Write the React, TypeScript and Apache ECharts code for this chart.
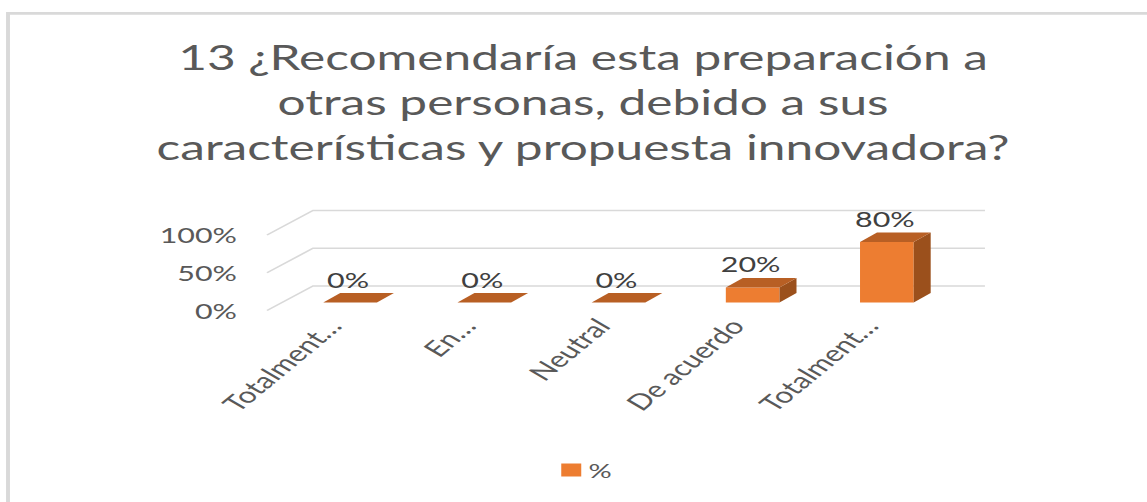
import React, { useEffect, useRef } from 'react';
import * as echarts from 'echarts';

// horizontal stretch of the reference picture
const S = 1.45;
const W = 1147 / S;
const H = 502;

const categories = ['Totalmente en desacuerdo', 'En desacuerdo', 'Neutral', 'De acuerdo', 'Totalmente de acuerdo'];
const categoryLabels = ['Totalment…', 'En…', 'Neutral', 'De acuerdo', 'Totalment…'];
const values = [0, 0, 0, 20, 80];
const valueTicks = [0, 50, 100];
const titleLines = [
  '13 ¿Recomendaría esta preparación a',
  'otras personas, debido a sus',
  'características y propuesta innovadora?',
];
const seriesName = '%';

const FONT = 'Lato, "Open Sans", sans-serif';
const sx = (v: number) => v / S;

export default function App() {
  const ref = useRef<HTMLDivElement>(null);
  useEffect(() => {
    if (!ref.current) return;
    const chart = echarts.init(ref.current, undefined, { renderer: 'svg' });
    const depthX = sx(17);
    const depthY = -9.5;
    const option: any = {
      animation: false,
      backgroundColor: '#ffffff',
      grid: [
        { left: sx(283), right: sx(1147 - 954), top: 227, bottom: H - 302.5 },
        { left: sx(267), right: sx(1147 - 938), top: 235, bottom: H - 310.5 },
      ],
      xAxis: [
        {
          type: 'category',
          gridIndex: 0,
          data: categories,
          axisLine: { show: false },
          axisTick: { show: false },
          axisLabel: { show: false },
        },
        {
          type: 'category',
          gridIndex: 1,
          data: categories,
          axisLine: { show: false },
          axisTick: { show: false },
          axisLabel: {
            interval: 0,
            rotate: 50,
            margin: 11,
            fontFamily: FONT,
            fontSize: 22,
            color: '#595959',
            formatter: (_v: string, i: number) => categoryLabels[i],
          },
        },
      ],
      yAxis: [
        { type: 'value', gridIndex: 0, min: 0, max: 100, interval: 50, show: false },
        {
          type: 'value',
          gridIndex: 1,
          min: 0,
          max: 100,
          interval: 50,
          axisLine: { show: false },
          axisTick: { show: false },
          splitLine: { show: false },
          axisLabel: {
            margin: sx(30),
            fontFamily: FONT,
            fontSize: 21,
            color: '#595959',
            formatter: '{value}%',
          },
        },
      ],
      legend: {
        data: [{ name: seriesName, icon: 'rect' }],
        left: sx(554),
        top: 455,
        itemWidth: sx(20),
        itemHeight: 13,
        itemGap: sx(10),
        textStyle: { fontFamily: FONT, fontSize: 20, color: '#595959' },
      },
      graphic: [
        {
          type: 'rect',
          silent: true,
          shape: { x: sx(8), y: 13.3, width: W + 20, height: H + 20 },
          style: { fill: 'none', stroke: '#d9d9d9', lineWidth: 2.7 },
        },
        {
          type: 'text',
          x: sx(583),
          y: 34,
          style: {
            text: titleLines.join('\n'),
            fontFamily: FONT,
            fontSize: 34.2,
            lineHeight: 45,
            fill: '#595959',
            align: 'center',
            verticalAlign: 'top',
          },
        },
      ],
      series: [
        {
          type: 'custom',
          name: 'walls',
          xAxisIndex: 0,
          yAxisIndex: 0,
          silent: true,
          encode: { x: 0, y: 1 },
          data: valueTicks.map((v) => [0, v]),
          renderItem: (params: any, api: any) => {
            const cs = params.coordSys;
            const p = api.coord([0, api.value(1)]);
            const y = p[1];
            const x0 = cs.x;
            const x1 = cs.x + cs.width;
            return {
              type: 'polyline',
              shape: {
                points: [
                  [x0 - sx(16), y + 8],
                  [x0 + sx(30), y - 16.5],
                  [x1 + sx(31), y - 16.5],
                ],
              },
              style: { stroke: '#d9d9d9', lineWidth: 1.5, fill: 'none' },
            };
          },
          z: 1,
        },
        {
          type: 'custom',
          name: seriesName,
          xAxisIndex: 0,
          yAxisIndex: 0,
          itemStyle: { color: '#ED7D31' },
          encode: { x: 0, y: 1 },
          data: values.map((v, i) => [i, v]),
          renderItem: (_params: any, api: any) => {
            const i = api.value(0);
            const v = api.value(1);
            const top = api.coord([i, v]);
            const base = api.coord([i, 0]);
            const bw = api.size([1, 0])[0] * 0.4;
            const xl = top[0] - bw / 2;
            const xr = top[0] + bw / 2;
            const children: any[] = [];
            if (base[1] - top[1] > 0.5) {
              children.push({
                type: 'rect',
                shape: { x: xl, y: top[1], width: bw, height: base[1] - top[1] },
                style: { fill: '#ED7D31' },
              });
              children.push({
                type: 'polygon',
                shape: {
                  points: [
                    [xr, top[1]],
                    [xr + depthX, top[1] + depthY],
                    [xr + depthX, base[1] + depthY],
                    [xr, base[1]],
                  ],
                },
                style: { fill: '#9B501C' },
              });
            }
            children.push({
              type: 'polygon',
              shape: {
                points: [
                  [xl, top[1]],
                  [xr, top[1]],
                  [xr + depthX, top[1] + depthY],
                  [xl + depthX, top[1] + depthY],
                ],
              },
              style: { fill: '#B85F24' },
            });
            children.push({
              type: 'text',
              x: top[0] - sx(2),
              y: top[1] + depthY - 3,
              style: {
                text: v + '%',
                fontFamily: FONT,
                fontSize: 21,
                fill: '#404040',
                align: 'center',
                verticalAlign: 'bottom',
              },
            });
            return { type: 'group', children };
          },
          z: 2,
        },
      ],
    };
    chart.setOption(option);
    return () => chart.dispose();
  }, []);
  return (
    <div
      style={{
        position: 'absolute',
        left: 0,
        top: 0,
        width: 1147,
        height: H,
        overflow: 'hidden',
        background: '#fff',
      }}
    >
      <div
        ref={ref}
        style={{
          width: W,
          height: H,
          transform: `scaleX(${S})`,
          transformOrigin: '0 0',
        }}
      />
    </div>
  );
}
